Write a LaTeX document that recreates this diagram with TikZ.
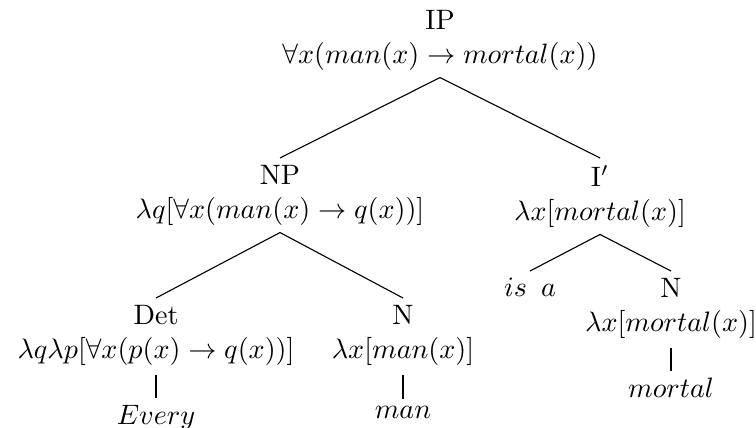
\documentclass[tikz,border=0pt]{standalone}
\usepackage{amsmath}
\usepackage{amssymb}
\usepackage{tikz}
\usetikzlibrary{positioning}

\begin{document}
\begin{tikzpicture}[
  x=0.3559pt, y=-0.3559pt,
  cat/.style={anchor=north, inner sep=0pt, outer xsep=0pt, outer ysep=2.6pt,
              align=center},
  branch/.style={},
  stem/.style={line width=0.7pt, shorten <=0.8pt}]
  \useasboundingbox (0,0) rectangle (756,427);
  % phrase nodes
  \node[cat] (IP) at (440,3) {IP\\ $\forall x(man(x) \rightarrow mortal(x))$};
  \node[cat] (NP) at (280,158) {NP\\ $\lambda q[\forall x(man(x) \rightarrow q(x))]$};
  \node[cat] (Ibar) at (600,158) {I$'$\\ $\lambda x[mortal(x)]$};
  \node[cat] (Det) at (156,298) {Det\\ $\lambda q\lambda p[\forall x(p(x) \rightarrow q(x))]$};
  \node[cat] (Nman) at (403,298) {N\\ $\lambda x[man(x)]$};
  \node[cat] (isa) at (530,271) {$is\enspace a$};
  \node[cat] (Nmortal) at (671,271) {N\\ $\lambda x[mortal(x)]$};
  % words
  \node[cat] (every) at (156,398) {$Every$};
  \node[cat] (man) at (403,399) {$man$};
  \node[cat] (mortal) at (671,371) {$mortal$};
  \draw[branch] (IP.south) -- (NP.north);
  \draw[branch] (IP.south) -- (Ibar.north);
  \draw[branch] (NP.south) -- (Det.north);
  \draw[branch] (NP.south) -- (Nman.north);
  \draw[branch] (Ibar.south) -- (isa.north);
  \draw[branch] (Ibar.south) -- (Nmortal.north);
  \draw[stem] (Det.south) -- (every.north);
  \draw[stem] (Nman.south) -- (man.north);
  \draw[stem] (Nmortal.south) -- (mortal.north);
\end{tikzpicture}
\end{document}
